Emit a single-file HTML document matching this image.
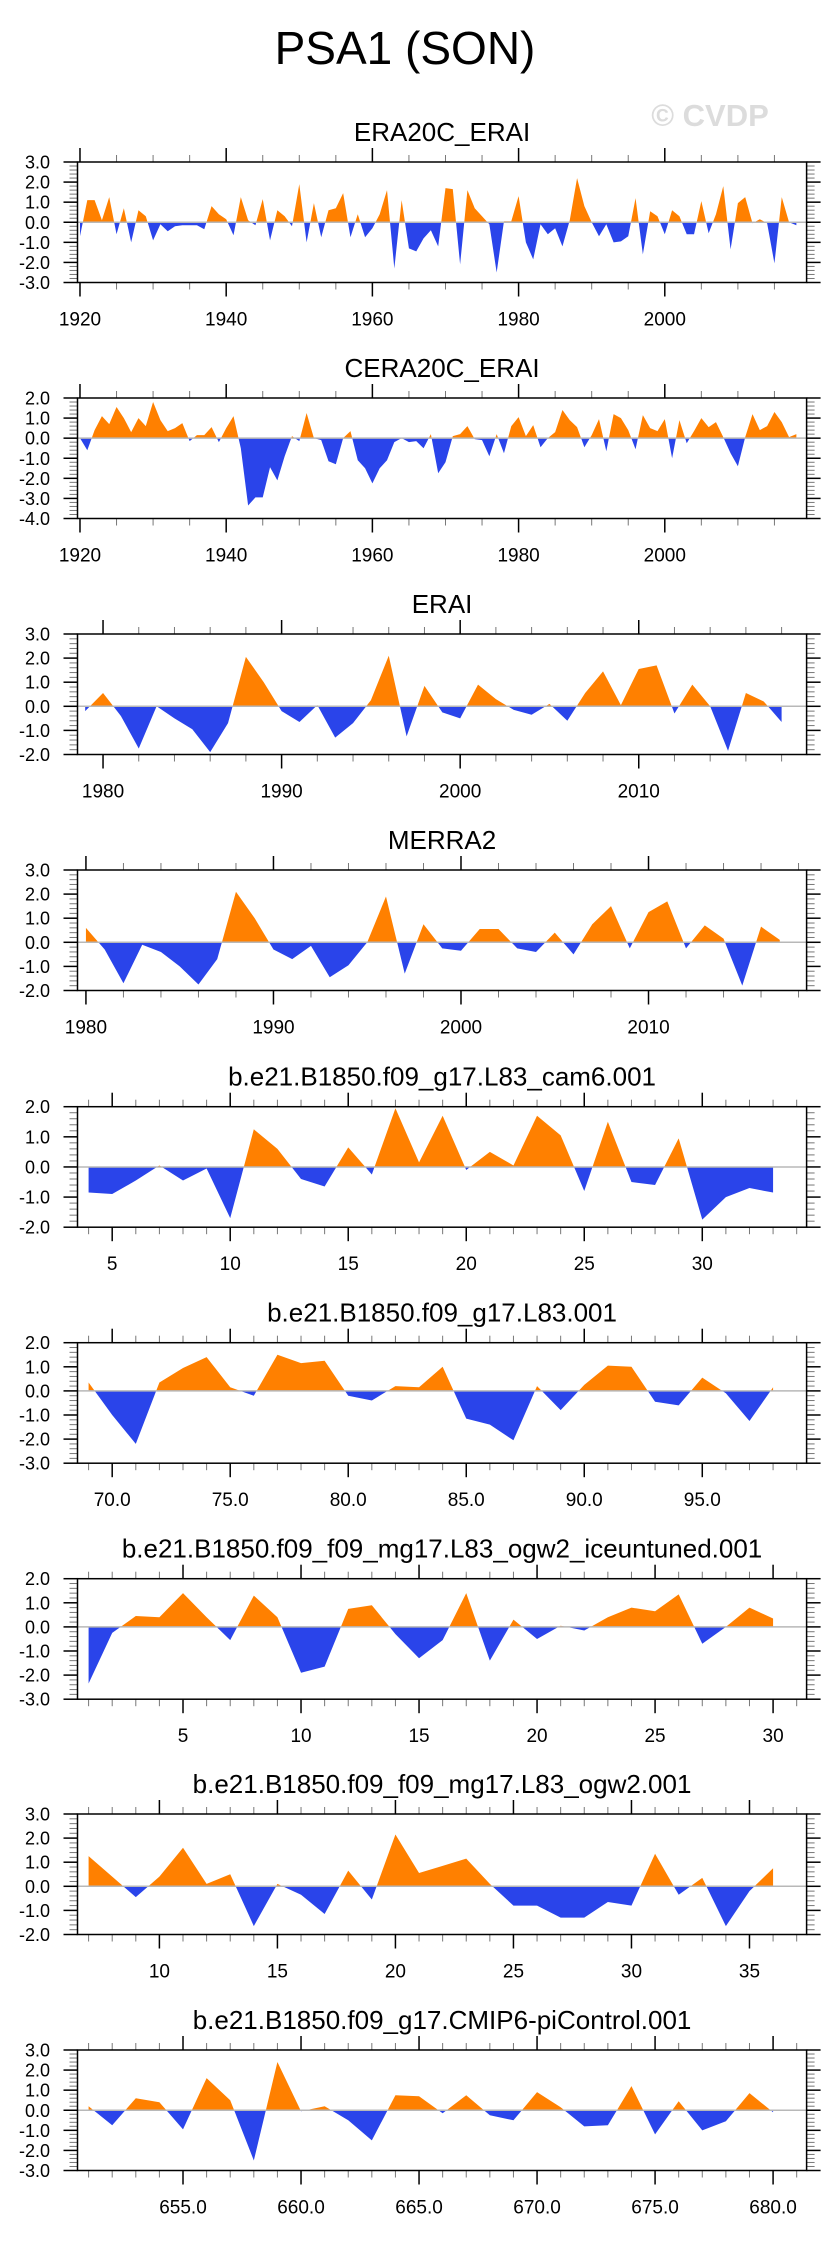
<!DOCTYPE html>
<html><head><meta charset="utf-8"><style>
html,body{margin:0;padding:0;background:#fff;}
svg{display:block;font-family:"Liberation Sans",Arial,sans-serif;}
</style></head><body>
<svg id="fig" width="829" height="2245" viewBox="0 0 829 2245" xmlns="http://www.w3.org/2000/svg">
<text x="405" y="64" font-size="46" text-anchor="middle">PSA1 (SON)</text>
<text x="710" y="126" font-size="31" font-weight="bold" fill="#dcdcdc" text-anchor="middle">© CVDP</text>
</svg>
<script>
const yearsERA20C = Array.from({length:99},(_, i)=>1920+i);
const valsERA20C = [-0.7,1.1,1.1,0.1,1.25,-0.6,0.7,-1.0,0.6,0.3,-0.9,-0.1,-0.45,-0.2,-0.15,-0.15,-0.15,-0.35,0.8,0.4,0.15,-0.65,1.25,0.1,-0.15,1.15,-0.9,0.6,0.3,-0.2,1.9,-1.0,0.95,-0.75,0.6,0.7,1.45,-0.75,0.4,-0.75,-0.3,0.4,1.6,-2.3,1.1,-1.3,-1.45,-0.8,-0.4,-1.2,1.7,1.65,-2.1,1.6,0.7,0.3,-0.1,-2.5,0.05,0.05,1.3,-1.0,-1.85,-0.1,-0.6,-0.3,-1.2,0.1,2.2,0.8,0.0,-0.7,-0.1,-1.0,-0.95,-0.7,1.2,-1.6,0.55,0.3,-0.6,0.6,0.3,-0.6,-0.6,1.05,-0.55,0.4,1.8,-1.35,0.95,1.25,-0.05,0.15,-0.05,-2.05,1.25,0.0,-0.15];
const yearsCERA20C = Array.from({length:99},(_, i)=>1920+i);
const valsCERA20C = [0.0,-0.6,0.4,1.1,0.7,1.55,1.0,0.3,1.0,0.6,1.8,0.9,0.35,0.5,0.75,-0.15,0.15,0.15,0.55,-0.2,0.5,1.1,-0.5,-3.35,-2.95,-2.95,-1.45,-2.1,-0.9,0.1,-0.15,1.25,0.0,-0.1,-1.15,-1.3,0.0,0.35,-1.1,-1.5,-2.25,-1.5,-1.1,-0.2,0.0,-0.2,-0.15,-0.5,0.2,-1.75,-1.2,0.1,0.2,0.6,-0.05,-0.1,-0.9,0.2,-0.75,0.6,1.05,0.1,0.65,-0.45,0.0,0.3,1.4,0.9,0.55,-0.45,0.15,0.95,-0.65,1.2,1.0,0.4,-0.55,1.15,0.5,0.35,0.95,-1.0,0.9,-0.25,0.35,1.0,0.55,0.8,0.05,-0.75,-1.4,0.05,1.2,0.4,0.6,1.3,0.8,0.05,0.2];
const yearsERAI = Array.from({length:40},(_, i)=>1979+i);
const valsERAI = [-0.2,0.55,-0.4,-1.75,0.0,-0.5,-0.95,-1.9,-0.7,2.05,1.0,-0.2,-0.65,0.05,-1.3,-0.7,0.25,2.1,-1.25,0.85,-0.25,-0.5,0.9,0.3,-0.15,-0.35,0.1,-0.6,0.55,1.45,0.05,1.55,1.7,-0.3,0.9,0.0,-1.85,0.55,0.2,-0.65];
const yearsMERRA2 = Array.from({length:38},(_, i)=>1980+i);
const valsMERRA2 = [0.6,-0.3,-1.7,-0.1,-0.4,-1.0,-1.75,-0.7,2.1,1.0,-0.3,-0.7,-0.15,-1.45,-0.95,0.0,1.9,-1.3,0.75,-0.25,-0.35,0.55,0.55,-0.25,-0.4,0.4,-0.5,0.75,1.5,-0.25,1.25,1.7,-0.25,0.7,0.15,-1.8,0.65,0.1];
const yearsCAM6 = Array.from({length:30},(_, i)=>4+i);
const valsCAM6 = [-0.85,-0.9,-0.45,0.05,-0.45,-0.05,-1.7,1.25,0.6,-0.4,-0.65,0.65,-0.25,1.95,0.15,1.7,-0.1,0.5,0.05,1.7,1.05,-0.8,1.5,-0.5,-0.6,0.95,-1.75,-1.0,-0.7,-0.85];
const yearsL83 = Array.from({length:30},(_, i)=>69+i);
const valsL83 = [0.35,-1.0,-2.2,0.35,0.95,1.4,0.15,-0.2,1.5,1.15,1.25,-0.2,-0.4,0.2,0.15,1.0,-1.15,-1.4,-2.05,0.2,-0.8,0.25,1.05,1.0,-0.45,-0.6,0.55,-0.1,-1.25,0.15];
const yearsICE = Array.from({length:30},(_, i)=>1+i);
const valsICE = [-2.35,-0.25,0.45,0.4,1.4,0.4,-0.55,1.3,0.4,-1.9,-1.65,0.75,0.9,-0.3,-1.3,-0.55,1.4,-1.4,0.3,-0.5,0.05,-0.15,0.4,0.8,0.65,1.35,-0.7,0.0,0.8,0.35];
const yearsOGW2 = Array.from({length:30},(_, i)=>7+i);
const valsOGW2 = [1.25,0.4,-0.45,0.4,1.6,0.1,0.5,-1.65,0.1,-0.35,-1.15,0.65,-0.55,2.15,0.55,0.85,1.15,0.1,-0.8,-0.8,-1.3,-1.3,-0.65,-0.8,1.35,-0.35,0.35,-1.65,-0.2,0.75];
const yearsPI = Array.from({length:30},(_, i)=>651+i);
const valsPI = [0.2,-0.75,0.6,0.4,-0.95,1.6,0.5,-2.5,2.4,-0.05,0.2,-0.5,-1.5,0.75,0.7,-0.15,0.75,-0.25,-0.5,0.9,0.15,-0.8,-0.75,1.2,-1.2,0.45,-1.0,-0.55,0.85,-0.1];
const titles = ["ERA20C_ERAI","CERA20C_ERAI","ERAI","MERRA2","b.e21.B1850.f09_g17.L83_cam6.001","b.e21.B1850.f09_g17.L83.001","b.e21.B1850.f09_f09_mg17.L83_ogw2_iceuntuned.001","b.e21.B1850.f09_f09_mg17.L83_ogw2.001","b.e21.B1850.f09_g17.CMIP6-piControl.001"];
const xsets = [yearsERA20C,yearsCERA20C,yearsERAI,yearsMERRA2,yearsCAM6,yearsL83,yearsICE,yearsOGW2,yearsPI];
const ysets = [valsERA20C,valsCERA20C,valsERAI,valsMERRA2,valsCAM6,valsL83,valsICE,valsOGW2,valsPI];
const yMins = [-3,-4,-2,-2,-2,-3,-3,-2,-3];
const yMaxs = [3,2,3,3,2,2,2,3,3];
const xMins = [1919.66,1919.66,1978.57,1979.55,3.53,68.53,0.53,6.53,650.53];
const xMaxs = [2019.4,2019.4,2019.4,2018.43,34.42,99.42,31.42,37.42,681.42];
const majorSteps = [20,20,10,10,5,5,5,5,5];
const minorSteps = [5,5,2,2,1,1,1,1,1];
const labelDecimals = [0,0,0,0,0,1,0,0,1];
const boxTops = [162,398,634,870,1106.7,1342.7,1578.7,1814,2050];

const NS="http://www.w3.org/2000/svg";
const svg=document.getElementById('fig');
const L=77.5,R=806.6,H=120.5;
function mk(tag,attrs,parent){const e=document.createElementNS(NS,tag);for(const k in attrs)e.setAttribute(k,attrs[k]);(parent||svg).appendChild(e);return e;}

for(let p=0;p<9;p++){
  const T=boxTops[p],B=T+H;
  const xs=v=>L+(v-xMins[p])/(xMaxs[p]-xMins[p])*(R-L);
  const ys=v=>B-(v-yMins[p])/(yMaxs[p]-yMins[p])*H;
  const g=mk('g',{});
  
  
  const t=mk('text',{x:(L+R)/2,y:T-21,'font-size':26,'text-anchor':'middle'},g);
  
  
  t.textContent=titles[p];
  const X=xsets[p],Y=ysets[p];
  const y0=ys(0);
  let d='M'+xs(X[0])+','+y0;
  for(let i=0;i<X.length;i++) d+=' L'+xs(X[i]).toFixed(2)+','+ys(Y[i]).toFixed(2);
  d+=' L'+xs(X[X.length-1])+','+y0+' Z';
  const cpA=mk('clipPath',{id:'ca'+p},g); mk('rect',{x:L,y:T,width:R-L,height:y0-T},cpA);
  const cpB=mk('clipPath',{id:'cb'+p},g); mk('rect',{x:L,y:y0,width:R-L,height:B-y0},cpB);
  const pos=mk('path',{d:d,fill:'#ff8000','clip-path':'url(#ca'+p+')'},g);
  
  
  const neg=mk('path',{d:d,fill:'#2a44ea','clip-path':'url(#cb'+p+')'},g);
  
  
  const zl=mk('line',{x1:L,x2:R,y1:y0,y2:y0,stroke:'#b8b8b8','stroke-width':1.5},g);
  
  
  for(let v=yMins[p];v<=yMaxs[p]+1e-6;v+=0.2){
    const vv=Math.round(v*10)/10;const yy=ys(vv);const major=Math.abs(vv-Math.round(vv))<1e-6;
    const len=major?14:8;
    mk('line',{x1:L-len,x2:L,y1:yy,y2:yy,stroke:major?'#000':'#777','stroke-width':major?1.5:1},g);
    mk('line',{x1:R,x2:R+len,y1:yy,y2:yy,stroke:major?'#000':'#777','stroke-width':major?1.5:1},g);
    if(major){const lt=mk('text',{x:50,y:yy+6.5,'font-size':18,'text-anchor':'end'},g);
      
      
      lt.textContent=vv.toFixed(1);}
  }
  const ms=minorSteps[p];
  for(let v=Math.ceil(xMins[p]/ms)*ms;v<=xMaxs[p];v+=ms){
    const xx=xs(v);const major=v%majorSteps[p]===0;const len=major?14:7;
    mk('line',{x1:xx,x2:xx,y1:T-len,y2:T,stroke:major?'#000':'#777','stroke-width':major?1.5:1},g);
    mk('line',{x1:xx,x2:xx,y1:B,y2:B+len,stroke:major?'#000':'#777','stroke-width':major?1.5:1},g);
    if(major){const xt=mk('text',{x:xx,y:B+43,'font-size':19,'text-anchor':'middle'},g);
      
      
      xt.textContent=labelDecimals[p]?v.toFixed(1):String(v);}
  }
  const box=mk('rect',{x:L,y:T,width:R-L,height:H,fill:'none',stroke:'#000','stroke-width':1.5},g);
  
  
}
</script>
</body></html>
